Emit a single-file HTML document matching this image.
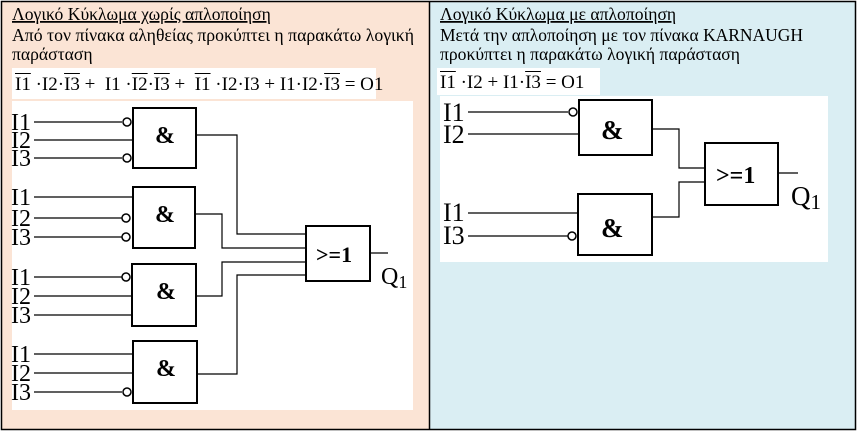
<!DOCTYPE html>
<html><head><meta charset="utf-8"><style>
body{margin:0;width:857px;height:431px;overflow:hidden;background:#fff;position:relative}
svg{display:block;position:absolute;left:0;top:0}
text{font-family:"Liberation Serif",serif}
.f{position:absolute;font-family:"Liberation Serif",serif;font-size:19px;white-space:pre;line-height:20px}
.o{text-decoration:overline}
</style></head><body>
<svg width="857" height="431" viewBox="0 0 857 431">
<rect x="2" y="2" width="427" height="427" fill="#fbe4d5"/>
<rect x="430" y="2" width="425" height="427" fill="#daeef3"/>
<rect x="1.5" y="1.5" width="854" height="428" fill="none" stroke="#000" stroke-width="1.5"/>
<line x1="429.5" y1="2" x2="429.5" y2="429" stroke="#000" stroke-width="1.5"/>
<g font-size="17.6">
<text x="12" y="20" text-decoration="underline">Λογικό Κύκλωμα χωρίς απλοποίηση</text>
<text x="12" y="41" textLength="402" lengthAdjust="spacingAndGlyphs">Από τον πίνακα αληθείας προκύπτει η παρακάτω λογική</text>
<text x="12" y="60">παράσταση</text>
<text x="440" y="20" text-decoration="underline">Λογικό Κύκλωμα με απλοποίηση</text>
<text x="440" y="41" textLength="363" lengthAdjust="spacingAndGlyphs">Μετά την απλοποίηση με τον πίνακα KARNAUGH</text>
<text x="440" y="60" textLength="300" lengthAdjust="spacingAndGlyphs">προκύπτει η παρακάτω λογική παράσταση</text>
</g>
<rect x="12" y="68" width="364" height="31" fill="#fff"/>
<rect x="12" y="101" width="401" height="309" fill="#fff"/>
<rect x="437" y="68" width="163" height="27" fill="#fff"/>
<rect x="440" y="96" width="388" height="166" fill="#fff"/>
<g fill="none" stroke="#000" stroke-width="1.2">
<rect x="133" y="108" width="63" height="60" stroke-width="2"/>
<rect x="133" y="187" width="62" height="61" stroke-width="2"/>
<rect x="132" y="264" width="64" height="62" stroke-width="2"/>
<rect x="133" y="341" width="64" height="62" stroke-width="2"/>
<rect x="306" y="226" width="64" height="55" stroke-width="2"/>
<path d="M34 122H122M34 140H133M34 158H122"/>
<path d="M34 197H133M34 218H122M34 237H122"/>
<path d="M34 277H122M34 296H132M34 315H132"/>
<path d="M34 354H133M34 373H133M34 392H122"/>
<path d="M196 135H237V234H306M195 214H222V248H306M196 296H222V262H306M197 374H237V275H306M370 253H388"/>
<rect x="579" y="100" width="73" height="55" stroke-width="2"/>
<rect x="578" y="194" width="74" height="61" stroke-width="2"/>
<rect x="705" y="143" width="73" height="62" stroke-width="2"/>
<path d="M468 112H568M468 134H579M468 213H578M468 236H568"/>
<path d="M652 129H679V168H705M652 217H679V182H705M778 173H798"/>
</g>
<g fill="#fff" stroke="#000" stroke-width="1.5">
<circle cx="127" cy="122" r="4"/><circle cx="127" cy="158" r="4"/>
<circle cx="126" cy="218" r="4"/><circle cx="126" cy="237" r="4"/>
<circle cx="126" cy="277" r="4"/><circle cx="127" cy="392" r="4"/>
<circle cx="573" cy="112" r="4"/><circle cx="572" cy="236" r="4"/>
</g>
<g font-size="24">
<text x="11" y="130">I1</text><text x="11" y="148">I2</text><text x="11" y="166">I3</text>
<text x="11" y="205">I1</text><text x="11" y="226">I2</text><text x="11" y="245">I3</text>
<text x="11" y="285">I1</text><text x="11" y="304">I2</text><text x="11" y="323">I3</text>
<text x="11" y="362">I1</text><text x="11" y="381">I2</text><text x="11" y="400">I3</text>
</g>
<g font-size="26">
<text x="443" y="121">I1</text><text x="443" y="143">I2</text>
<text x="443" y="221">I1</text><text x="443" y="244">I3</text>
</g>
<g font-size="24" font-weight="bold">
<text x="155" y="143">&amp;</text>
<text x="155" y="222">&amp;</text>
<text x="156" y="299">&amp;</text>
<text x="156" y="376">&amp;</text>
<text x="601" y="139" font-size="27">&amp;</text>
<text x="601" y="237" font-size="27">&amp;</text>
</g>
<text x="316" y="262" font-size="22" font-weight="bold">&gt;=1</text>
<text x="716" y="183" font-size="24" font-weight="bold">&gt;=1</text>
<text x="381" y="284" font-size="24">Q<tspan font-size="18" dy="4">1</tspan></text>
<text x="791" y="205" font-size="27">Q<tspan font-size="21" dy="4">1</tspan></text>
</svg>
<div class="f" style="left:15px;top:75px"><span class="o">I1</span> ·I2·<span class="o">I3</span> +  I1 ·<span class="o">I2</span>·<span class="o">I3</span> +  <span class="o">I1</span> ·I2·I3 + I1·I2·<span class="o">I3</span> = O1</div>
<div class="f" style="left:440px;top:73px"><span class="o">I1</span> ·I2 + I1·<span class="o">I3</span> = O1</div>
</body></html>
